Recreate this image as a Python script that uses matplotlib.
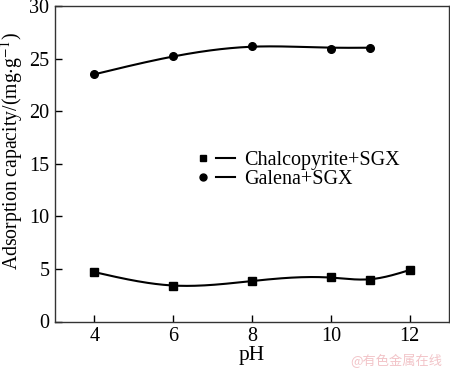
import numpy as np
import matplotlib
matplotlib.use("Agg")
import matplotlib.pyplot as plt
from matplotlib.lines import Line2D
from matplotlib.legend_handler import HandlerTuple

ph_chalco = [4, 6, 8, 10, 11, 12]
cap_chalco = [4.7, 3.4, 3.85, 4.25, 3.9, 4.9]
ph_galena = [4, 6, 8, 10, 11]
cap_galena = [23.5, 25.2, 26.2, 25.95, 26.05]
xticks = [4, 6, 8, 10, 12]
yticks = [0, 5, 10, 15, 20, 25, 30]

plt.rcParams['font.family'] = ['Liberation Serif', 'DejaVu Serif']
plt.rcParams['mathtext.fontset'] = 'stix'

fig = plt.figure(figsize=(4.5, 3.68), dpi=100)
ax = fig.add_axes([55/450, 1-321.5/368, 394/450, 315.5/368])


def smooth(x, y, lam, w=None, step=0.05):
    """Whittaker-type smoothing spline on a fine grid."""
    x = np.asarray(x, float); y = np.asarray(y, float)
    xs = np.arange(x.min(), x.max() + step / 2, step)
    n = len(xs)
    idx = np.round((x - x.min()) / step).astype(int)
    W = np.zeros(n); Z = np.zeros(n)
    ww = np.ones(len(x)) if w is None else np.asarray(w, float)
    W[idx] = ww; Z[idx] = ww * y
    D = np.diff(np.eye(n), 2, axis=0) / step**2
    A = np.diag(W) + lam * step * D.T @ D
    return xs, np.linalg.solve(A, Z)


xs, ys = smooth(ph_chalco, cap_chalco, 0.03, w=[3, 1, 1, 1, 1, 6])
ax.plot(xs, ys, color='black', lw=1.5)
ax.plot(ph_chalco, cap_chalco, 's', color='black', ms=5.5, ls='none')
xs, ys = smooth(ph_galena, cap_galena, 0.2, w=[4, 1, 1, 1, 2])
ax.plot(xs, ys, color='black', lw=1.5)
ax.plot(ph_galena, cap_galena, 'o', color='black', ms=5.5, ls='none')

ax.set_xlim(3, 13)
ax.set_ylim(0, 30)
ax.set_xticks(xticks)
ax.set_yticks(yticks)
ax.tick_params(direction='in', length=5, width=1, labelsize=14.5, pad=4)
for s in ax.spines.values():
    s.set_linewidth(1.0)
    s.set_color('#333333')

ax.set_xlabel('pH', fontsize=15.5, labelpad=0)
ax.set_ylabel(r'Adsorption capacity/(mg$\cdot$g$^{-1}$)', fontsize=14.2)
ax.yaxis.set_label_coords(-0.075, 0.54)

h1 = (Line2D([], [], marker='s', color='black', ls='none', ms=5),
      Line2D([], [], color='black', lw=1.5))
h2 = (Line2D([], [], marker='o', color='black', ls='none', ms=5),
      Line2D([], [], color='black', lw=1.5))
ax.legend([h1, h2], ['Chalcopyrite+SGX', 'Galena+SGX'],
          handler_map={tuple: HandlerTuple(ndivide=None, pad=0.2)},
          loc='upper left', bbox_to_anchor=(0.333, 0.565), frameon=False,
          fontsize=14.5, handlelength=2.0, handletextpad=0.5, labelspacing=0.0,
          borderaxespad=0)

fig.text(442/450, 1-361/368, '@有色金属在线', fontsize=9.5, color='#f2c4c8',
         family=['Noto Sans CJK SC', 'DejaVu Sans'], ha='right', va='center')

fig.savefig('out.png', dpi=100)
